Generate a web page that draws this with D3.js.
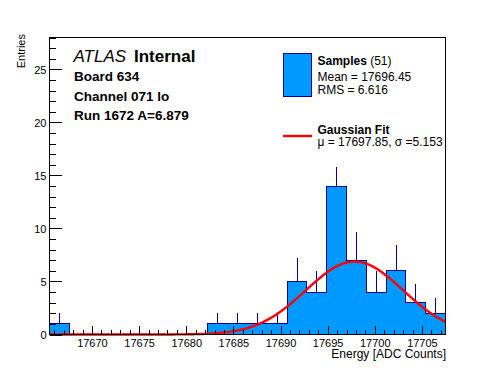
<!DOCTYPE html>
<html><head><meta charset="utf-8">
<script src="https://cdn.jsdelivr.net/npm/d3@7"></script>
<style>
html,body{margin:0;padding:0;background:#fff;}
svg{display:block;font-family:"Liberation Sans",Arial,Helvetica,sans-serif;}
</style>
</head><body>
<svg id="c" width="496" height="372"></svg>
<script>
// ---- data ----
const binEdges = [17665.5, 17667.6, 17669.7, 17671.8, 17673.9, 17676.0, 17678.1, 17680.2, 17682.3, 17684.4,
                  17686.5, 17688.6, 17690.7, 17692.8, 17694.9, 17697.0, 17699.1, 17701.2, 17703.3, 17705.4, 17707.5];
const counts = [1, 0, 0, 0, 0, 0, 0, 0, 1, 1, 1, 1, 5, 4, 14, 7, 4, 6, 3, 2];
const errors = [1, 0, 0, 0, 0, 0, 0, 0, 1, 1, 1, 1, 2.24, 2, 1.82, 2.65, 2, 2.45, 1.73, 1.41];
const xTicks = [17670, 17675, 17680, 17685, 17690, 17695, 17700, 17705];
const yTicks = [0, 5, 10, 15, 20, 25];
const xDomain = [17665.5, 17707.5];
const yDomain = [0, 28];
const fitAmp = 6.879, fitMean = 17697.85, fitSigma = 5.153;
const headerLines = ["Board 634", "Channel 071 lo", "Run 1672 A=6.879"];
const legendSamples = ["Mean = 17696.45", "RMS = 6.616"];
const legendFit = "\u03bc = 17697.85, \u03c3 =5.153";

// ---- layout ----
const L = 49.5, R = 445.5, T = 37.5, B = 334.5;
const fill = "#0099ff", edge = "#000099", red = "#ff0000";
const svg = d3.select("#c");
svg.append("rect").attr("width", 496).attr("height", 372).attr("fill", "#fff");

const x = d3.scaleLinear().domain(xDomain).range([L, R]);
const y = d3.scaleLinear().domain(yDomain).range([B, T]);

const bins = counts.map((c, i) => ({lo: binEdges[i], hi: binEdges[i + 1], c, e: errors[i]}));

// error bars
svg.append("g").selectAll("line").data(bins.filter(d => d.e > 0)).join("line")
  .attr("x1", d => x((d.lo + d.hi) / 2)).attr("x2", d => x((d.lo + d.hi) / 2))
  .attr("y1", d => y(d.c)).attr("y2", d => y(d.c + d.e))
  .attr("stroke", edge).attr("stroke-width", 1).attr("shape-rendering", "crispEdges");

// bar fills
svg.append("g").selectAll("rect").data(bins.filter(d => d.c > 0)).join("rect")
  .attr("x", d => x(d.lo)).attr("width", d => x(d.hi) - x(d.lo))
  .attr("y", d => y(d.c)).attr("height", d => y(0) - y(d.c))
  .attr("fill", fill).attr("shape-rendering", "crispEdges");

// staircase outline
const pts = [[binEdges[0], 0]];
bins.forEach(d => { pts.push([d.lo, d.c]); pts.push([d.hi, d.c]); });
pts.push([binEdges[binEdges.length - 1], 0]);
svg.append("path").attr("d", d3.line().x(d => x(d[0])).y(d => y(d[1]))(pts))
  .attr("fill", "none").attr("stroke", edge).attr("stroke-width", 1).attr("shape-rendering", "crispEdges");

// gaussian fit
const gx = d3.range(xDomain[0], xDomain[1] + 0.001, 0.1);
const gauss = v => fitAmp * Math.exp(-0.5 * Math.pow((v - fitMean) / fitSigma, 2));
svg.append("path").attr("d", d3.line().x(v => x(v)).y(v => y(gauss(v)))(gx))
  .attr("fill", "none").attr("stroke", red).attr("stroke-width", 2.4);

// axes
const gxMinor = svg.append("g").attr("transform", `translate(0,${B})`)
  .call(d3.axisBottom(x).tickValues(d3.range(17666, 17708)).tickSize(-4.5).tickFormat(""));
const gxMajor = svg.append("g").attr("transform", `translate(0,${B})`)
  .call(d3.axisBottom(x).tickValues(xTicks).tickSize(-9).tickFormat(d3.format("d")));
const gyMinor = svg.append("g").attr("transform", `translate(${L},0)`)
  .call(d3.axisLeft(y).tickValues(d3.range(0, 29)).tickSize(-6).tickFormat(""));
const gyMajor = svg.append("g").attr("transform", `translate(${L},0)`)
  .call(d3.axisLeft(y).tickValues(yTicks).tickSize(-12).tickFormat(d3.format("d")));
[gxMinor, gxMajor, gyMinor, gyMajor].forEach(g => {
  g.select(".domain").remove();
  g.attr("font-family", null).attr("font-size", null);
  g.selectAll("line").attr("stroke", "#000").attr("shape-rendering", "crispEdges");
});
gxMajor.selectAll("text").attr("y", 12).attr("dy", 0).attr("font-size", 11).attr("fill", "#000");
gyMajor.selectAll("text").attr("x", -3).attr("dy", "0.36em").attr("font-size", 11).attr("fill", "#000");

// frame
svg.append("rect").attr("x", L).attr("y", T).attr("width", R - L).attr("height", B - T)
  .attr("fill", "none").attr("stroke", "#000").attr("stroke-width", 1).attr("shape-rendering", "crispEdges");

// axis titles
svg.append("text").attr("x", R + 0.5).attr("y", 358).attr("text-anchor", "end")
  .attr("font-size", 12).text("Energy [ADC Counts]");
svg.append("text").attr("transform", "translate(24.5,34) rotate(-90)").attr("text-anchor", "end")
  .attr("font-size", 11).text("Entries");

// header text
const atl = svg.append("text").attr("x", 73.5).attr("y", 62).attr("font-size", 17);
atl.append("tspan").attr("font-style", "italic").text("ATLAS");
atl.append("tspan").attr("x", 134).attr("font-weight", "bold").text("Internal");
headerLines.forEach((t, i) => {
  svg.append("text").attr("x", 74).attr("y", 81 + i * 19.5).attr("font-size", 13.5)
    .attr("font-weight", "bold").text(t);
});

// legend
svg.append("rect").attr("x", 283.5).attr("y", 53.5).attr("width", 28).attr("height", 43)
  .attr("fill", fill).attr("stroke", edge).attr("stroke-width", 1).attr("shape-rendering", "crispEdges");
const s1 = svg.append("text").attr("x", 317.5).attr("y", 65).attr("font-size", 12);
s1.append("tspan").attr("font-weight", "bold").text("Samples");
s1.append("tspan").text(" (51)");
legendSamples.forEach((t, i) => {
  svg.append("text").attr("x", 317.5).attr("y", 80.5 + i * 13.8).attr("font-size", 12).text(t);
});
svg.append("line").attr("x1", 283).attr("x2", 312).attr("y1", 136).attr("y2", 136)
  .attr("stroke", red).attr("stroke-width", 2.4);
svg.append("text").attr("x", 317.5).attr("y", 133.5).attr("font-size", 12).attr("font-weight", "bold").text("Gaussian Fit");
svg.append("text").attr("x", 317.5).attr("y", 146).attr("font-size", 12).text(legendFit);
</script>
</body></html>
